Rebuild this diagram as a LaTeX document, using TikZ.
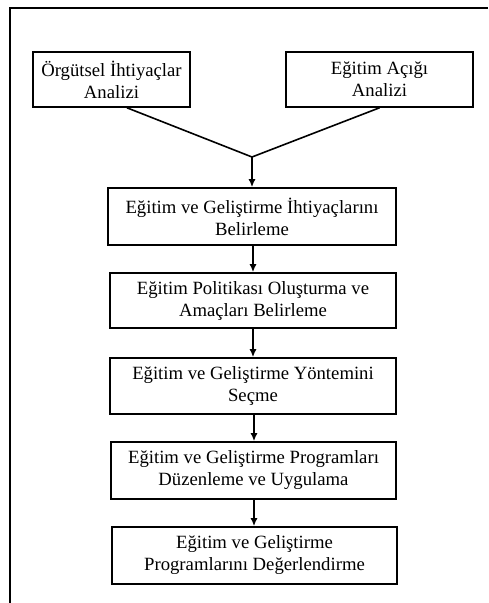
\documentclass[tikz,border=0pt]{standalone}
\usepackage{fontspec}
\setmainfont{Liberation Serif}
\usetikzlibrary{arrows.meta,calc}
\begin{document}
\begin{tikzpicture}[x=1pt,y=-1pt,
  stepbox/.style={draw,line width=1.6pt,align=center,inner sep=0pt,
    font=\fontsize{18.7}{22}\selectfont},
  link/.style={line width=1.6pt},
  flow/.style={line width=1.6pt,-{Latex[length=8pt,width=7pt]}}]
\useasboundingbox (0,0) rectangle (488,603);
% open frame: top and left edges only
\draw[line width=1.5pt] (10,603) -- (10,8) -- (488,8);
% source analyses
\node[stepbox,minimum width=157pt,minimum height=55pt] (org) at (111.5,79.5)
  {Örgütsel İhtiyaçlar\\Analizi};
\node[stepbox,minimum width=187pt,minimum height=55pt] (gap) at (379.5,79.5)
  {Eğitim Açığı\\Analizi};
% main sequence
\node[stepbox,minimum width=288pt,minimum height=57pt] (s1) at (252,216.5)
  {Eğitim ve Geliştirme İhtiyaçlarını\\Belirleme};
\node[stepbox,minimum width=286pt,minimum height=55pt] (s2) at (253,300.5)
  {Eğitim Politikası Oluşturma ve\\Amaçları Belirleme};
\node[stepbox,minimum width=286pt,minimum height=56pt] (s3) at (253,386)
  {Eğitim ve Geliştirme Yöntemini\\Seçme};
\node[stepbox,minimum width=285pt,minimum height=57pt] (s4) at (253.5,470.5)
  {Eğitim ve Geliştirme Programları\\Düzenleme ve Uygulama};
\node[stepbox,minimum width=285pt,minimum height=57pt] (s5) at (254.5,555.5)
  {Eğitim ve Geliştirme\\Programlarını Değerlendirme};
% merge point
\coordinate (j) at (252,157);
\draw[link] ($(org.south)+(15.5,0)$) -- (j);
\draw[link] (gap.south) -- (j);
\draw[flow] (j) -- (j |- s1.north);
\draw[flow] (s1.south -| 253,0) -- (s2.north -| 253,0);
\draw[flow] (s2.south -| 253,0) -- (s3.north -| 253,0);
\draw[flow] (s3.south -| 254,0) -- (s4.north -| 254,0);
\draw[flow] (s4.south -| 254,0) -- (s5.north -| 254,0);
\end{tikzpicture}
\end{document}
